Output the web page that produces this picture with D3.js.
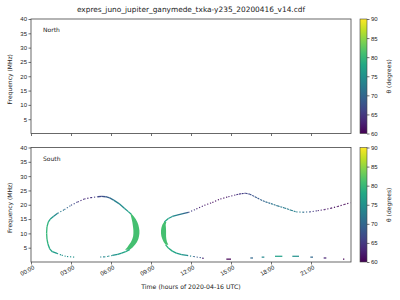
<!DOCTYPE html>
<meta charset="utf-8">
<style>
  body { margin: 0; background: #fff; }
  svg { font-family: "DejaVu Sans", sans-serif; }
  .tick text { font-size: 6px; fill: #222; }
  .tick line { stroke: #333; stroke-width: 0.7; }
</style>
<svg width="400" height="300"></svg>
<script src="https://cdn.jsdelivr.net/npm/d3@7"></script>
<script>
// ---- data (time in hours, frequency in MHz, theta in degrees)
var timeTicks = [0, 3, 6, 9, 12, 15, 18, 21];
var timeLabels = ["00:00", "03:00", "06:00", "09:00", "12:00", "15:00", "18:00", "21:00"];
var freqTicks = [5, 10, 15, 20, 25, 30, 35, 40];
var thetaTicks = [60, 65, 70, 75, 80, 85, 90];
var panels = ["North", "South"];

// south traces: continuous ("solid"), sparse ("dotted"), close dashes ("dash")
var traces = [
  {kind: "dotted", t: [1.95, 2.3, 2.7, 3.25], f: [3.0, 2.4, 1.9, 1.7], th: [76, 75, 75, 75]},
  {kind: "solid", t: [1.95, 1.6, 1.4, 1.27, 1.2, 1.17, 1.2, 1.3, 1.45, 1.7, 2.0],
                  f: [3.0, 3.6, 4.6, 6.3, 8.0, 10.0, 12.3, 14.0, 15.0, 16.0, 17.0],
                  th: [76, 77, 78, 79, 80, 80, 80, 79, 77, 75, 73]},
  {kind: "dotted", t: [2.0, 2.5, 3.0, 3.5, 4.0, 4.5, 5.0], f: [17.0, 18.3, 19.8, 21.0, 22.0, 22.5, 22.8],
                   th: [73, 71, 68, 65, 63, 64, 66]},
  {kind: "solid", t: [5.0, 5.3, 5.6, 5.9, 6.2, 6.6, 7.0, 7.3, 7.5],
                  f: [22.8, 22.9, 22.8, 22.4, 21.6, 20.4, 18.8, 17.6, 16.8],
                  th: [66, 67, 68, 70, 72, 74, 75, 77, 78]},
  {kind: "solid", t: [7.4, 7.1, 6.8, 6.5, 6.1], f: [4.3, 3.6, 3.1, 2.7, 2.3], th: [79, 78, 77, 76, 75]},
  {kind: "dotted", t: [6.1, 5.8, 5.5, 5.1], f: [2.3, 2.0, 1.8, 1.7], th: [75, 75, 74, 73]},
  {kind: "solid", t: [10.0, 10.3, 10.6, 10.95, 11.4, 11.8], f: [14.0, 15.2, 15.9, 16.4, 16.9, 17.3],
                  th: [79, 77, 75, 73, 71, 69]},
  {kind: "dotted", t: [11.8, 12.4, 13.0, 13.6, 14.2, 14.8, 15.4], f: [17.3, 18.5, 19.8, 20.8, 22.0, 22.8, 23.5],
                   th: [67, 64, 62, 61, 61, 62, 63]},
  {kind: "dash", t: [15.4, 15.8, 16.1, 16.4, 16.8, 17.2, 17.6, 18.0, 18.5, 19.0, 19.5, 19.9],
                 f: [23.5, 23.9, 24.0, 23.7, 22.8, 21.8, 21.0, 20.4, 19.6, 18.9, 18.1, 17.5],
                 th: [64, 65, 66, 67, 68, 69, 70, 71, 72, 72, 73, 73]},
  {kind: "dotted", t: [19.9, 20.4, 20.9, 21.5, 22.0, 22.5, 23.0, 23.5, 23.95],
                   f: [17.5, 17.4, 17.5, 17.9, 18.3, 18.8, 19.4, 20.1, 20.7],
                   th: [73, 72, 68, 63, 62, 61, 61, 60, 60]},
  {kind: "solid", t: [10.1, 10.3, 10.6, 10.9, 11.3, 11.7], f: [6.0, 4.9, 3.8, 3.1, 2.6, 2.3], th: [80, 79, 78, 77, 76, 75]},
  {kind: "dotted", t: [11.7, 12.2, 12.9], f: [2.3, 1.9, 1.4], th: [74, 72, 65]}
];

// thick green parts: frequency rows with the time span covered
var bands = [
  {th: 81, f: [17, 16, 15, 14, 13, 12, 11, 10, 9, 8, 7, 6, 5, 4.3],
   t0: [7.45, 7.5, 7.55, 7.6, 7.63, 7.66, 7.68, 7.68, 7.66, 7.6, 7.5, 7.35, 7.2, 7.05],
   t1: [7.5, 7.7, 7.85, 7.97, 8.05, 8.1, 8.13, 8.13, 8.1, 8.05, 7.95, 7.8, 7.6, 7.4]},
  {th: 81, f: [14, 13, 12, 11, 10, 9, 8, 7, 6],
   t0: [9.98, 9.85, 9.78, 9.75, 9.75, 9.78, 9.85, 9.95, 10.1],
   t1: [10.15, 10.1, 10.12, 10.13, 10.13, 10.13, 10.15, 10.2, 10.3]}
];

// short low-frequency pieces
var dashT0 = [12.85, 14.65, 16.45, 17.3, 18.3, 19.6, 20.95, 21.95, 23.4];
var dashT1 = [12.95, 15.0, 16.65, 17.5, 18.85, 20.1, 21.15, 22.15, 23.5];
var dashF = [1.3, 1.0, 1.4, 1.7, 2.0, 2.0, 1.7, 1.4, 1.0];
var dashTh = [62, 60, 70, 74, 77, 75, 70, 63, 60];

var svg = d3.select("svg");
var left = 31, right = 351;
var tops = [19, 147.5], h = 114.5;
var cbX = 360, cbW = 7;

var x = d3.scaleLinear().domain([0, 24]).range([left, right]);
var col = function(th) { return d3.interpolateViridis((th - 60) / 30); };

svg.append("text").attr("x", (left + right) / 2).attr("y", 12)
  .attr("text-anchor", "middle").style("font-size", "7.4px").attr("fill", "#222")
  .text("expres_juno_jupiter_ganymede_txka-y235_20200416_v14.cdf");

// colorbar gradient
var grad = svg.append("defs").append("linearGradient").attr("id", "vir")
  .attr("x1", 0).attr("y1", 1).attr("x2", 0).attr("y2", 0);
d3.range(0, 1.01, 0.1).forEach(function(s) {
  grad.append("stop").attr("offset", s).attr("stop-color", d3.interpolateViridis(s));
});

panels.forEach(function(name, p) {
  var top = tops[p];
  var y = d3.scaleLinear().domain([0, 40]).range([top + h, top]);
  var g = svg.append("g");

  if (p == 1) {
    bands.forEach(function(b) {
      var pts = b.f.map(function(f, i) { return [x(b.t1[i]), y(f)]; })
        .concat(b.f.map(function(f, i) { return [x(b.t0[i]), y(f)]; }).reverse());
      g.append("path").attr("d", "M" + pts.join("L") + "Z").attr("fill", col(b.th));
    });
    traces.forEach(function(tr) {
      for (var i = 0; i < tr.t.length - 1; i++) {
        g.append("line")
          .attr("x1", x(tr.t[i])).attr("y1", y(tr.f[i]))
          .attr("x2", x(tr.t[i + 1])).attr("y2", y(tr.f[i + 1]))
          .attr("stroke", col((tr.th[i] + tr.th[i + 1]) / 2))
          .attr("stroke-width", tr.kind == "solid" ? 1.3 : 1.1)
          .attr("stroke-dasharray", tr.kind == "dotted" ? "1.2,1.8" : tr.kind == "dash" ? "2,0.8" : null);
      }
    });
    dashT0.forEach(function(t0, i) {
      g.append("rect").attr("x", x(t0)).attr("y", y(dashF[i]) - 0.6)
        .attr("width", Math.max(1.2, x(dashT1[i]) - x(t0))).attr("height", 1.2)
        .attr("fill", col(dashTh[i]));
    });
  }

  var xa = svg.append("g").attr("transform", "translate(0," + (top + h) + ")")
    .call(d3.axisBottom(x).tickValues(timeTicks).tickSize(2.5).tickPadding(2)
      .tickFormat(function(d, i) { return p == 1 ? timeLabels[i] : ""; }));
  xa.select(".domain").remove();
  if (p == 1) {
    xa.selectAll("text").attr("text-anchor", "end")
      .attr("transform", "translate(-1,-1) rotate(-30)");
  }

  var ya = svg.append("g").attr("transform", "translate(" + left + ",0)")
    .call(d3.axisLeft(y).tickValues(freqTicks).tickSize(2.5).tickPadding(1.5));
  ya.select(".domain").remove();

  svg.append("rect").attr("x", left).attr("y", top).attr("width", right - left).attr("height", h)
    .attr("fill", "none").attr("stroke", "#444").attr("stroke-width", 0.8);

  svg.append("text").attr("x", 43).attr("y", top + 13).style("font-size", "6px").attr("fill", "#222")
    .text(name);

  svg.append("text").attr("transform", "translate(12," + (top + h / 2 + 3) + ") rotate(-90)")
    .attr("text-anchor", "middle").style("font-size", "6px").attr("fill", "#222")
    .text("Frequency (MHz)");

  // colorbar
  var cy = d3.scaleLinear().domain([60, 90]).range([top + h, top]);
  svg.append("rect").attr("x", cbX).attr("y", top).attr("width", cbW).attr("height", h)
    .attr("fill", "url(#vir)").attr("stroke", "#444").attr("stroke-width", 0.6);
  var ca = svg.append("g").attr("transform", "translate(" + (cbX + cbW) + ",0)")
    .call(d3.axisRight(cy).tickValues(thetaTicks).tickSize(2.5).tickPadding(1.5));
  ca.select(".domain").remove();
  svg.append("text").attr("transform", "translate(391," + (top + h / 2) + ") rotate(-90)")
    .attr("text-anchor", "middle").style("font-size", "6px").attr("fill", "#222")
    .text("θ (degrees)");
});

svg.append("text").attr("x", (left + right) / 2).attr("y", 289).attr("text-anchor", "middle")
  .style("font-size", "6.2px").attr("fill", "#222").text("Time (hours of 2020-04-16 UTC)");
</script>
